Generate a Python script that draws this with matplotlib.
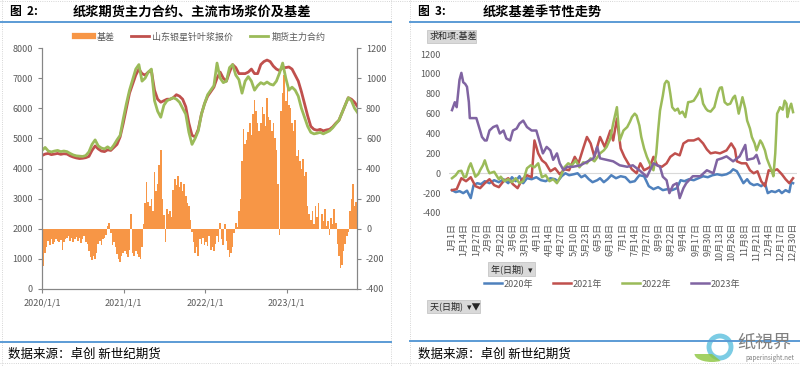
import numpy as np
import pandas as pd
import matplotlib
matplotlib.use("Agg")
import matplotlib.pyplot as plt
from matplotlib.lines import Line2D
from matplotlib.patches import FancyBboxPatch, Ellipse, Wedge

plt.rcParams["font.family"] = ["Noto Sans CJK SC", "DejaVu Sans"]
plt.rcParams["axes.unicode_minus"] = False

# --- Fig 2 data: spot / futures (every two weeks from 2020-01-01), basis (weekly) ---
spot = [4430, 4480, 4500, 4460, 4480, 4500, 4470, 4490, 4480,
        4420, 4380, 4350, 4330, 4340, 4360, 4400,
        4600, 4750, 4650, 4580, 4560, 4620, 4600, 4700, 4800,
        5050, 5500, 6000, 6500, 6800, 7100, 7300, 7150, 7100, 7200, 7250,
        6600, 6300, 6200, 6250, 6300, 6300, 6350, 6450, 6400, 6300, 6050,
        5500, 5100, 5050, 5300, 5800, 6150, 6400, 6550, 6700, 7000, 7200,
        7000, 6900, 7200, 7450, 7350, 7150, 7150, 7150, 7200, 7300, 7150,
        7150, 7450, 7550, 7600, 7550, 7400, 7300, 7250, 7350, 7350, 7370,
        7300, 7100, 6900, 6550, 6150, 5750, 5400, 5300, 5270, 5300, 5250,
        5280, 5300, 5380, 5500, 5600, 5850, 6100, 6350, 6300, 6200, 6050]
futures = [4600, 4700, 4580, 4550, 4580, 4600, 4560, 4580, 4560,
           4500, 4450, 4420, 4410, 4400, 4430, 4550,
           4800, 4950, 4750, 4680, 4650, 4720, 4640, 4780, 4950,
           5100, 5650, 6150, 6600, 6950, 7300, 7450, 6900, 7000, 7200, 7300,
           6250, 5900, 5700, 6100, 6250, 6300, 6350, 6300, 6200, 6000, 5800,
           5200, 4800, 5000, 5250, 5800, 6150, 6450, 6600, 6750, 7500, 7000,
           6850, 6900, 7350, 7450, 7100, 6950, 6500, 6900, 7050, 6900, 6600,
           6750, 6850, 6800, 6870, 6800, 6770, 6900, 7170, 7500, 7000, 6600,
           6700, 6600, 6400, 6000, 5700, 5400, 5200, 5150, 5170, 5200, 5150,
           5200, 5250, 5350, 5480, 5600, 5850, 6100, 6350, 6250, 6000, 5850]
basis = [-180, -245, -160, -120, -80, -110, -70, -100, -90, -70,
         -80, -90, -75, -140, -85, -70, -60,
         -50, -80, -60, -90, -70, -55, -80, -60, -95, -70, -50, -85, -100,
         -150, -190, -210, -180, -200, -160, -100, -80, -110, -70, -60, -40,
         20, 35, -30, -110, -90, -120, -170, -200, -220, -180, -160,
         -150, -170, -190, -140, 95, -160, -180, -150, -170, -190, -200,
         -120, 30, 170, 310, 180, 150, 200, 120, 380, 250, 300, 420, 525, 200,
         90, -90, 130, 100, 120, 80, 260, 330, 290, 350, 280, 310, 250, 300, 220,
         170, 150, 60, -20, -90, -160, -120, -180, -70, -100, -60, -110, -90, -115, -50,
         -140, -120, -150, -100, -50, -90, 40, -70, -110, 30, -80,
         -140, -190, -160, -120, -30, 40, 10, 120, 200, 450, 660,
         560, 590, 640, 700, 620, 760, 855, 780, 700,
         650, 700, 810, 760, 680, 870, 740, 720, 650, 700, 600, 520, 300, -40,
         780, 900, 1020, 850, 960, 820, 800, 700, 650, 720, 480, 520, 450,
         400, 460, 350, 380, 150, 100,
         60, 120, 30, 150, 80, 170, 0, 100, 50, 130, 20,
         50, -40, 70, 30, 130, 40, -100, -180, -260, -240, -150, -100,
         -50, -20, 120, 200, 295, 150, 180]

price_dates = pd.date_range("2020-01-01", periods=len(spot), freq="14D")
basis_dates = pd.date_range("2020-01-01", periods=len(basis), freq="7D")

# --- Fig 3 data: seasonal basis, day-of-year (leap-year calendar) ---
days_2020 = [0, 4, 8, 12, 16, 20, 23, 27, 31, 35, 40, 45, 50, 55, 60, 64, 68, 72, 76, 80,
             85, 90, 95, 100, 105, 110, 113, 117, 121, 125, 130, 134, 138, 142, 146, 150,
             155, 158, 162, 166, 170, 175, 180, 185, 190, 195, 200, 205, 210, 215, 220,
             225, 230, 235, 240, 244, 248, 253, 258, 263, 268, 273, 278, 283, 288, 293,
             297, 300, 304, 307, 311, 315, 318, 322, 326, 330, 334, 337, 341, 345, 349,
             352, 356, 360, 362, 364]
basis_2020 = [-170, -190, -180, -200, -175, -250, -120, -100, -110, -80, -100, -70, -90, -60,
              -100, -40, -80, -30, -100, -50, -60, -40, -70, -80, -50, -60, -80, -30, 0, -20,
              -10, 0, -40, -20, -60, -90, -70, -50, -90, -60, -20, -50, -30, -40, -90, -80,
              -20, -30, -130, -160, -140, -170, -160, -170, -150, -70, -80, -60, -70, -50,
              -30, -40, -20, -10, -20, -10, 10, 40, 20, -30, -100, -60, -100, -120, -110,
              -130, -100, -200, -180, -190, -170, -200, -170, -190, -90, -100]
days_2021 = [0, 5, 10, 15, 20, 25, 30, 35, 40, 45, 50, 55, 60, 65, 70, 75, 80, 85, 88, 92,
             96, 100, 105, 110, 115, 120, 125, 131, 135, 140, 144, 148, 152, 158, 163, 169,
             172, 176, 180, 184, 188, 192, 197, 201, 205, 211, 215, 219, 224, 229, 233, 238,
             243, 247, 252, 258, 263, 268, 272, 276, 281, 286, 293, 298, 302, 304, 309, 314,
             318, 322, 326, 330, 334, 338, 342, 347, 352, 356, 360, 364]
basis_2021 = [-170, -160, -50, -80, -40, -130, -150, -100, -60, -120, -140, -80, -50, -110,
              -150, -60, -20, -40, 330, 200, 130, 100, 20, 50, -10, 40, 30, 165, 100, 250,
              365, 300, 165, 365, 265, 430, 330, 550, 250, 165, 100, 40, 0, 100, 30, 60, 165,
              80, 65, 100, 165, 200, 180, 300, 330, 330, 350, 300, 240, 200, 210, 200, 230,
              300, 240, 120, 100, 100, 30, 0, 20, -80, -130, 30, 20, 40, -10, -60, -100, -50]
days_2022 = [0, 4, 7, 10, 13, 15, 18, 20, 23, 25, 28, 30, 33, 35, 38, 40, 45, 50, 52, 56,
             60, 64, 68, 72, 76, 80, 84, 88, 92, 96, 100, 104, 108, 112, 116, 120, 124, 128,
             132, 136, 140, 144, 148, 152, 158, 162, 165, 169, 172, 176, 179, 183, 187, 190,
             192, 195, 197, 200, 202, 205, 208, 211, 215, 218, 220, 222, 225, 227, 229, 231,
             233, 235, 238, 241, 243, 246, 249, 252, 255, 258, 262, 265, 268, 271, 273, 276,
             280, 282, 284, 286, 288, 291, 294, 297, 300, 302, 304, 306, 308, 310, 313, 315,
             318, 320, 323, 325, 329, 331, 334, 336, 338, 341, 343, 345, 347, 349, 350, 353,
             355, 357, 358, 360, 362, 364]
basis_2022 = [-50, -20, 20, 25, -40, -35, 60, 100, 20, -35, -10, 30, 80, 130, 40, 0, 15, -60,
              -35, -80, -60, -90, -50, -100, -80, 50, 80, 60, 100, -40, -20, -80, -60, -100,
              -30, 60, 100, 80, 130, 60, 110, 100, 150, 120, 200, 230, 265, 350, 500, 665,
              330, 430, 465, 520, 565, 600, 580, 480, 365, 250, 165, 100, 30, 200, 430, 630,
              780, 900, 930, 915, 800, 665, 630, 650, 600, 620, 565, 715, 720, 730, 790, 850,
              700, 650, 630, 620, 665, 740, 815, 860, 865, 715, 690, 700, 760, 780, 700, 600,
              680, 765, 650, 530, 450, 365, 300, 230, 330, 300, 230, 150, 100, 30, -30, 200,
              600, 640, 665, 640, 730, 700, 565, 650, 700, 615]
days_2023 = [0, 3, 5, 8, 10, 12, 14, 16, 18, 19, 26, 30, 32, 35, 37, 40, 44, 48, 51, 55, 58,
             62, 65, 69, 72, 76, 80, 85, 90, 94, 97, 101, 105, 108, 112, 115, 119, 123, 129,
             137, 144, 151, 155, 158, 165, 172, 179, 187, 193, 200, 208, 215, 222, 225, 229,
             232, 236, 240, 243, 247, 250, 257, 265, 272, 279, 283, 288, 293, 300, 307, 313,
             315, 322, 325, 328]
basis_2023 = [635, 715, 665, 940, 1010, 915, 900, 870, 715, 555, 555, 430, 365, 330, 330, 430,
              465, 480, 400, 430, 350, 330, 430, 450, 500, 530, 465, 430, 430, 300, 200, 265,
              230, 135, 200, 100, 30, 65, 65, 80, 115, 150, 265, 150, 135, 120, 80, 65, 80, 30,
              -35, 100, 65, -35, -70, -200, -120, -100, -250, -150, -100, -30, -30, 30, 0, 135,
              150, 170, 120, 170, 285, 135, 150, 185, 100]

year_labels = ["2020年", "2021年", "2022年", "2023年"]
season_days = [days_2020, days_2021, days_2022, days_2023]
season_vals = [basis_2020, basis_2021, basis_2022, basis_2023]
season_colors = ["#4F81BD", "#C0504D", "#9BBB59", "#8064A2"]

day_ticks = list(range(0, 365, 13))
cal = pd.date_range("2020-01-01", "2020-12-31", freq="D")
day_tick_labels = [f"{cal[d].month}月{cal[d].day}日" for d in day_ticks]

W, H = 800, 366
fig = plt.figure(figsize=(8, 3.66), dpi=100)


def fx(x):
    return x / W


def fy(y):
    return 1 - y / H


def hline(x0, x1, y, color, lw, ls="-"):
    fig.add_artist(Line2D([fx(x0), fx(x1)], [fy(y), fy(y)], color=color, lw=lw,
                          ls=ls, transform=fig.transFigure))


def vline(x, y0, y1, color, lw, ls="-"):
    fig.add_artist(Line2D([fx(x), fx(x)], [fy(y0), fy(y1)], color=color, lw=lw,
                          ls=ls, transform=fig.transFigure))


def button(x0, y0, x1, y1, text):
    fig.add_artist(FancyBboxPatch((fx(x0), fy(y1)), fx(x1 - x0), (y1 - y0) / H,
                                  boxstyle="square,pad=0", fc="#D9D9D9", ec="#BFBFBF",
                                  lw=0.5, transform=fig.transFigure))
    fig.text(fx(x0 + 3), fy((y0 + y1) / 2), text, fontsize=6.5, color="#262626",
             va="center", ha="left")


# --- Panel frames ---
grey_dot = "#C8C8C8"
hline(0, 800, 0.5, grey_dot, 0.6, ":")
hline(0, 800, 363, grey_dot, 0.6, ":")
vline(2, 0, 366, grey_dot, 0.6, ":")
vline(391, 0, 366, grey_dot, 0.6, ":")
vline(410, 0, 366, grey_dot, 0.6, ":")
hline(0, 391, 22, "#5B9BD5", 1.4)
hline(410, 800, 22, "#5B9BD5", 1.4)
hline(0, 391, 342, "#5B9BD5", 1.4)
hline(410, 800, 341, "#5B9BD5", 1.4)

fig.text(fx(10), fy(12), "图  2:", fontsize=8.5, fontweight="bold", va="center")
fig.text(fx(73), fy(12), "纸浆期货主力合约、主流市场浆价及基差", fontsize=9.5,
         fontweight="bold", va="center")
fig.text(fx(418), fy(12), "图  3:", fontsize=8.5, fontweight="bold", va="center")
fig.text(fx(483), fy(12), "纸浆基差季节性走势", fontsize=9.5, fontweight="bold", va="center")
fig.text(fx(8), fy(354), "数据来源：卓创 新世纪期货", fontsize=9, va="center")
fig.text(fx(418), fy(354), "数据来源：卓创 新世纪期货", fontsize=9, va="center")

# --- Left chart ---
ax = fig.add_axes([fx(42), fy(289), fx(357 - 42), (289 - 48) / H])
ax2 = ax.twinx()
ax2.bar(basis_dates, basis, width=7, color="#F79646", lw=0)
ax.plot(price_dates, spot, color="#C0504D", lw=2)
ax.plot(price_dates, futures, color="#9BBB59", lw=2)
ax.set_zorder(ax2.get_zorder() + 1)
ax.patch.set_visible(False)

ax.set_xlim(pd.Timestamp("2020-01-01"), pd.Timestamp("2023-11-12"))
ax.set_ylim(0, 8000)
ax.set_yticks(range(0, 8001, 1000))
ax2.set_ylim(-400, 1200)
ax2.set_yticks(range(-400, 1201, 200))
year_ticks = [pd.Timestamp(f"{y}-01-01") for y in (2020, 2021, 2022, 2023)]
ax.set_xticks(year_ticks)
ax.set_xticklabels([f"{y}/1/1" for y in (2020, 2021, 2022, 2023)])
for a in (ax, ax2):
    for s in a.spines.values():
        s.set_color("#868686")
        s.set_linewidth(0.8)
    a.spines["top"].set_visible(False)
    a.tick_params(colors="#868686", labelcolor="#595959", labelsize=6.5,
                  length=3, width=0.8)
ax.tick_params(axis="x", pad=4)

handles = [Line2D([], [], color="#F79646", lw=4.5),
           Line2D([], [], color="#C0504D", lw=2),
           Line2D([], [], color="#9BBB59", lw=2)]
fig.legend(handles, ["基差", "山东银星针叶浆报价", "期货主力合约"], loc="center",
           bbox_to_anchor=(fx(200), fy(37)), ncol=3, frameon=False, fontsize=6.5,
           handlelength=2.0, columnspacing=1.8, handletextpad=0.4, labelcolor="#595959")

# --- Right chart ---
bx = fig.add_axes([fx(449), fy(213), fx(348), (213 - 54) / H])
for d, v, c in zip(season_days, season_vals, season_colors):
    bx.plot(d, v, color=c, lw=1.8, solid_joinstyle="round")
bx.axhline(0, color="#D9D9D9", lw=0.8, zorder=0)
bx.set_xlim(-3.2, 368.2)
bx.set_ylim(-400, 1200)
bx.set_yticks(range(-400, 1201, 200))
bx.set_xticks(day_ticks)
bx.set_xticklabels(day_tick_labels, rotation=90, va="top", ha="center")
for s in bx.spines.values():
    s.set_visible(False)
bx.tick_params(axis="both", length=0, labelcolor="#595959", labelsize=6.5)
bx.tick_params(axis="y", pad=6)
bx.tick_params(axis="x", pad=7)

button(427, 30, 476, 43, "求和项:基差")
button(488, 262, 535, 276, "年(日期)  ▾")
button(427, 300, 480, 313, "天(日期)  ▾▼")

handles2 = [Line2D([], [], color=c, lw=1.8) for c in season_colors]
fig.legend(handles2, year_labels, loc="center", bbox_to_anchor=(fx(612), fy(284)),
           ncol=4, frameon=False, fontsize=6.5, handlelength=2.0, columnspacing=2.2,
           handletextpad=0.2, labelcolor="#595959")

# --- Watermark ---
fig.add_artist(Ellipse((fx(720), fy(347)), 22 / W, 22 / H, transform=fig.transFigure,
                       fc="none", ec="#5BC0DE", lw=3.5, alpha=0.8))
fig.add_artist(Wedge((fx(712), fy(354)), 8 / H, 180, 300, transform=fig.transFigure,
                     fc="#8CC63F", ec="none", alpha=0.8))
fig.text(fx(737), fy(343), "纸視界", fontsize=13, color="#7F7F7F", va="center")
fig.text(fx(745), fy(358), "paperinsight.net", fontsize=4.5, color="#7F7F7F", va="center")

fig.savefig("out.png", dpi=100)
